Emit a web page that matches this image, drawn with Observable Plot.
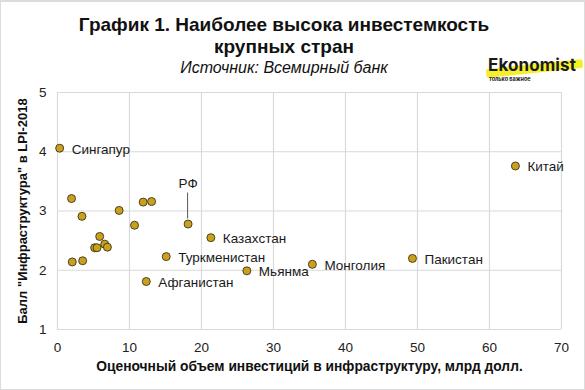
<!DOCTYPE html>
<html>
<head>
<meta charset="utf-8">
<script src="https://cdn.jsdelivr.net/npm/d3@7"></script>
<script src="https://cdn.jsdelivr.net/npm/@observablehq/plot@0.6"></script>
<style>
  html, body { margin: 0; padding: 0; background: #fff; }
  #wrap { position: relative; width: 585px; height: 390px; overflow: hidden; background: #fff;
          font-family: "Liberation Sans", Arial, sans-serif; color: #111; }
  #header { position: relative; width: 585px; height: 84px; }
  .t { position: absolute; left: 0; width: 568px; text-align: center; white-space: nowrap; }
  #t1 { top: 14px; font-size: 19px; line-height: 22px; font-weight: bold; }
  #t2 { top: 36px; font-size: 19px; line-height: 22px; font-weight: bold; }
  #sub { top: 59px; font-size: 16px; line-height: 18px; font-style: italic; left: 0; width: 568px; }
  #logo { position: absolute; left: 486px; top: 55px; width: 99px; height: 32px; }
  #hl { position: absolute; left: 0px; top: 9px; width: 97px; height: 9px; background: #f4ef2c;
        transform: rotate(-6deg); transform-origin: center; border-radius: 2px; }
  #brand { position: absolute; left: 2px; top: 0px; font-family: Inter, "DejaVu Sans", sans-serif;
           font-weight: 700; font-size: 17px; line-height: 20px; color: #1a1a1a; letter-spacing: 0.1px; }
  #tag { position: absolute; left: 3px; top: 21px; font-family: Inter, sans-serif; font-weight: 700;
         font-size: 5.5px; line-height: 7px; color: #222; }
  #border { position: absolute; left: 0; top: 0; width: 585px; height: 390px; box-sizing: border-box;
            border: 1px solid #dcdcdc; border-top-width: 2px; pointer-events: none; }
  #chart svg { display: block; overflow: visible; }
</style>
</head>
<body>
<div id="wrap">
  <div id="header">
    <div class="t" id="t1">График 1. Наиболее высока инвестемкость</div>
    <div class="t" id="t2">крупных стран</div>
    <div class="t" id="sub">Источник: Всемирный банк</div>
    <div id="logo">
      <div id="hl"></div>
      <div id="brand">Ekonomist</div>
      <div id="tag">только важное</div>
    </div>
  </div>
  <div id="chart"></div>
  <div id="border"></div>
</div>
<script>
// ---- data ----
const countries = ["Сингапур", "", "", "", "", "", "", "РФ", "", "", "", "", "", "", "",
                   "Туркменистан", "Афганистан", "Казахстан", "Мьянма", "Монголия", "Пакистан", "Китай"];
const investment = [0.3, 1.95, 3.4, 8.56, 11.9, 13.07, 10.7, 18.14, 5.86, 5.16, 5.49, 6.56, 6.93, 2.05, 3.49,
                    15.1, 12.33, 21.3, 26.3, 35.4, 49.3, 63.6];
const lpiInfra = [4.06, 3.21, 2.91, 3.01, 3.15, 3.16, 2.76, 2.78, 2.57, 2.38, 2.38, 2.44, 2.39, 2.14, 2.16,
                  2.23, 1.81, 2.55, 1.99, 2.10, 2.20, 3.76];
const xTicks = [0, 10, 20, 30, 40, 50, 60, 70];
const yTicks = [1, 2, 3, 4, 5];
const titleX = "Оценочный объем инвестиций в инфраструктуру, млрд долл.";
const titleY = "Балл \"Инфраструктура\" в LPI-2018";

const data = countries.map((name, i) => ({name, x: investment[i], y: lpiInfra[i]}));
const sideLabels = data.filter(d => d.name && d.name !== "РФ");
const topLabels = data.filter(d => d.name === "РФ");

const font = "\"Liberation Sans\", Arial, sans-serif";

function leader(index, scales) {
  const ns = "http://www.w3.org/2000/svg";
  const g = document.createElementNS(ns, "g");
  for (const d of topLabels) {
    const px = scales.x(d.x), py = scales.y(d.y);
    const l = document.createElementNS(ns, "line");
    l.setAttribute("x1", px); l.setAttribute("x2", px);
    l.setAttribute("y1", py - 31); l.setAttribute("y2", py - 5);
    l.setAttribute("stroke", "#555"); l.setAttribute("stroke-width", "1");
    g.appendChild(l);
  }
  return g;
}

const chart = Plot.plot({
  width: 585,
  height: 306,
  marginTop: 8,
  marginBottom: 61,
  marginLeft: 57,
  marginRight: 24,
  style: {fontFamily: font, fontSize: "13.5px", color: "#222", background: "transparent", overflow: "visible"},
  x: {domain: [0, 70], ticks: xTicks, tickFormat: d => String(d), tickSize: 0, tickPadding: 13, label: null},
  y: {domain: [1, 5], ticks: yTicks, tickFormat: d => String(d), tickSize: 0, tickPadding: 11, label: null},
  marks: [
    Plot.ruleX(xTicks, {stroke: "#d9d9d9", strokeWidth: 1.2}),
    Plot.ruleY(yTicks, {stroke: "#d9d9d9", strokeWidth: 1.2}),
    leader,
    Plot.dot(data, {x: "x", y: "y", r: 4, fill: "#c9a11b", stroke: "#3b3420", strokeWidth: 0.9}),
    Plot.text(sideLabels, {x: "x", y: "y", text: "name", textAnchor: "start", dx: 12, dy: 1,
                           fontSize: 13.5, fill: "#1a1a1a"}),
    Plot.text(topLabels, {x: "x", y: "y", text: "name", textAnchor: "middle", dy: -40,
                          fontSize: 13.5, fill: "#1a1a1a"}),
    Plot.text([titleX], {frameAnchor: "bottom", textAnchor: "middle", lineAnchor: "bottom", dy: 41,
                         fontSize: 13.8, fontWeight: "bold", fill: "#111"}),
    Plot.text([titleY], {frameAnchor: "left", textAnchor: "middle", lineAnchor: "middle", dx: -35, rotate: -90,
                         fontSize: 13, fontWeight: "bold", fill: "#111"})
  ]
});
document.getElementById("chart").appendChild(chart);
</script>
</body>
</html>
